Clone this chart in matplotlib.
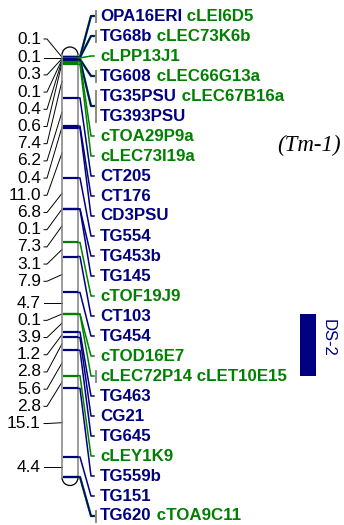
import numpy as np
import matplotlib
matplotlib.use('Agg')
import matplotlib.pyplot as plt
from matplotlib.patches import Arc, Rectangle

# ---------------- data ----------------
intervals = [0.1, 0.1, 0.3, 0.1, 0.4, 0.6, 7.4, 6.2, 0.4, 11.0, 6.8, 0.1,
             7.3, 3.1, 7.9, 4.7, 0.1, 3.9, 1.2, 2.8, 5.6, 2.8, 15.1, 4.4]
interval_labels = ['0.1', '0.1', '0.3', '0.1', '0.4', '0.6', '7.4', '6.2', '0.4',
                   '11.0', '6.8', '0.1', '7.3', '3.1', '7.9', '4.7', '0.1', '3.9',
                   '1.2', '2.8', '5.6', '2.8', '15.1', '4.4']
marker_rows = [["OPA16ERI", "cLEI6D5"], ["TG68b", "cLEC73K6b"], ["cLPP13J1"],
               ["TG608", "cLEC66G13a"], ["TG35PSU", "cLEC67B16a"], ["TG393PSU"],
               ["cTOA29P9a"], ["cLEC73I19a"], ["CT205"], ["CT176"], ["CD3PSU"],
               ["TG554"], ["TG453b"], ["TG145"], ["cTOF19J9"], ["CT103"], ["TG454"],
               ["cTOD16E7"], ["cLEC72P14", "cLET10E15"], ["TG463"], ["CG21"],
               ["TG645"], ["cLEY1K9"], ["TG559b"], ["TG151"], ["TG620", "cTOA9C11"]]
marker_locus = [0, 1, 2, 3, 4, 4, 5, 6, 7, 8, 9, 10, 11, 12, 13, 14, 15, 16, 17,
                18, 19, 20, 21, 22, 23, 24]
qtl_name = 'DS-2'
qtl_from, qtl_to = 'cTOD16E7', 'cLEY1K9'
gene_label = '(Tm-1)'

# ---------------- style / layout ----------------
NAVY = '#000080'
GREEN = '#008000'
GRAY = '#808080'
W, H = 344, 525
TOP_PX, BOT_PX = 57, 477
BAR_L, BAR_R = 62, 78

def name_color(n):
    return GREEN if n.startswith('c') else NAVY

loci = np.concatenate([[0.0], np.cumsum(intervals)])
scale = (BOT_PX - TOP_PX) / loci[-1]          # px per cM

def cm(py):
    return (py - TOP_PX) / scale

fig = plt.figure(figsize=(W / 100, H / 100), dpi=100)
ax = fig.add_axes([0, 0, 1, 1])
ax.set_xlim(0, W)
ax.set_ylim(cm(H), cm(0))
ax.axis('off')

# ---------------- chromosome bar ----------------
body_top = loci[0] - 2 / scale
body_bot = loci[-1] + 0.5 / scale
ax.plot([BAR_L, BAR_L], [body_top, body_bot], color=GRAY, lw=1.1, zorder=2)
ax.plot([BAR_R, BAR_R], [body_top, body_bot], color=GRAY, lw=1.1, zorder=2)
cw = BAR_R - BAR_L
ax.add_patch(Arc(((BAR_L + BAR_R) / 2, body_top), cw, cw / scale,
                 theta1=180, theta2=360, color='black', lw=0.9))
ax.add_patch(Arc(((BAR_L + BAR_R) / 2, body_bot), cw, cw / scale,
                 theta1=0, theta2=180, color='black', lw=0.9))

# ---------------- right labels ----------------
step_r = 20 / scale
row_y = cm(16) + step_r * np.arange(len(marker_rows))

font_r = dict(family='Liberation Sans', fontweight='bold', fontsize=12.2)
for i, names in enumerate(marker_rows):
    t = ax.text(100, row_y[i], names[0], color=name_color(names[0]),
                ha='left', va='center', **font_r)
    for n in names[1:]:
        t = ax.annotate(' ' + n, xy=(1, 0), xycoords=t, ha='left', va='bottom',
                        color=name_color(n), **font_r)

for k in range(len(loci)):
    rows = [i for i, kk in enumerate(marker_locus) if kk == k]
    if not rows:
        continue
    yt = row_y[rows].mean()
    yl = loci[k]
    names = [n for r in rows for n in marker_rows[r]]
    cols = []
    for n in names:
        c = name_color(n)
        if c not in cols:
            cols.append(c)
    cols = sorted(cols, key=lambda c: 0 if c == GREEN else 1)
    for j, c in enumerate(cols):
        lw = 1.7 if (len(cols) > 1 and j == 0) else 1.1
        ax.plot([BAR_L + 0.5, BAR_R], [yl, yl], color=c, lw=1.6, zorder=3,
                solid_capstyle='butt')
        ax.plot([BAR_R, BAR_R + 2, 91, 94], [yl, yl, yt, yt], color=c, lw=lw,
                zorder=3, solid_joinstyle='round')
    if len(names) > 1:
        y0 = row_y[rows].min() - 6.5 / scale
        y1 = row_y[rows].max() + 6.5 / scale
        ax.plot([95.5, 95.5], [y0, y1], color=GRAY, lw=1.3, zorder=3,
                solid_capstyle='butt')

# ---------------- left labels (interval distances) ----------------
mids = (loci[:-1] + loci[1:]) / 2
step_l = 17.2 / scale
lab_y = [cm(39)]
for m in mids[1:]:
    lab_y.append(max(lab_y[-1] + step_l, m))

for i, txt in enumerate(interval_labels):
    ax.text(41, lab_y[i], txt, ha='right', va='center', color='black',
            family='Liberation Sans', fontsize=12.4)
    ax.plot([44, 47, BAR_L], [lab_y[i], lab_y[i], mids[i]], color='black',
            lw=0.7, zorder=1)

# ---------------- QTL bar ----------------
name_locus = {n: loci[marker_locus[i]] for i, r in enumerate(marker_rows) for n in r}
qa, qb = name_locus[qtl_from], name_locus[qtl_to]
ax.add_patch(Rectangle((300, qa), 16, qb - qa, color=NAVY, lw=0))
ax.text(328, cm(338), qtl_name, rotation=270, ha='center', va='center',
        color=NAVY, family='Liberation Sans', fontsize=12)

# ---------------- gene label ----------------
ax.text(341, cm(145), gene_label, ha='right', va='center', color='black',
        family='Liberation Serif', style='italic', fontsize=16.5)

fig.savefig('out.png', dpi=100)
